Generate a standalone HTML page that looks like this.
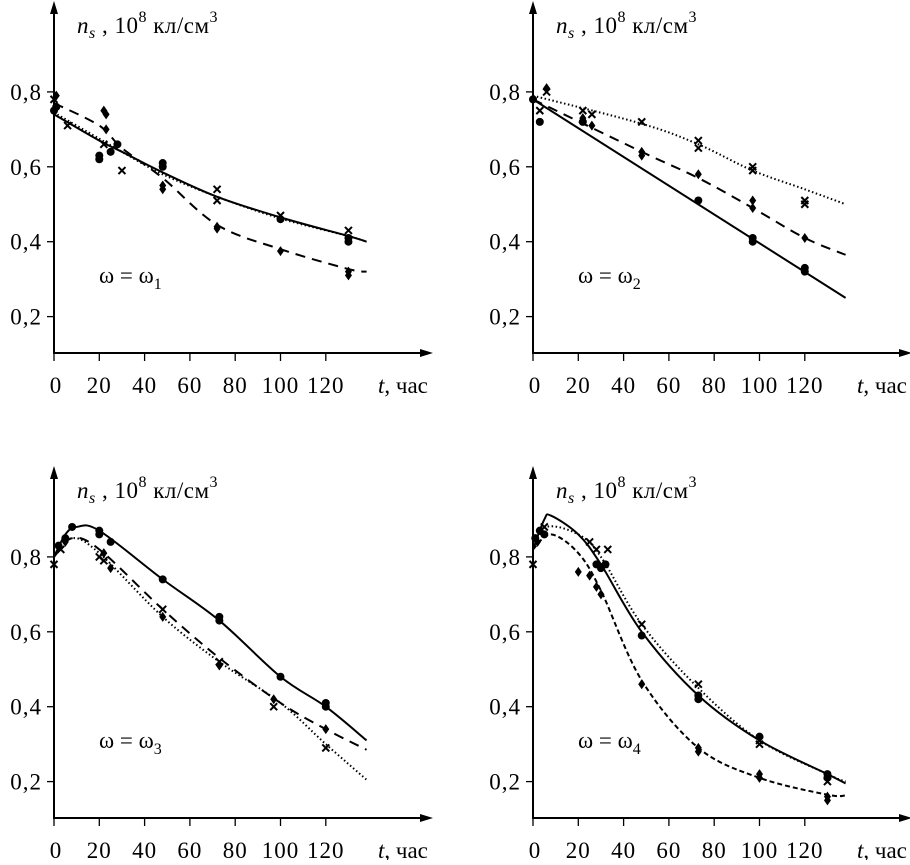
<!DOCTYPE html>
<html><head><meta charset="utf-8"><style>
body{margin:0;background:#fff}
svg text{font-family:"Liberation Serif",serif;fill:#000}
</style></head><body>
<svg id="c" width="910" height="860" xmlns="http://www.w3.org/2000/svg"></svg>
<script>
const xTicks=[0,20,40,60,80,100,120];
const yTicks=[0.2,0.4,0.6,0.8];
const yTickLabels=["0,2","0,4","0,6","0,8"];
const panelSubs=["1","2","3","4"];
const p1SolidT=[0,20,30,48,72,100,130,138], p1SolidN=[0.74,0.67,0.64,0.585,0.52,0.465,0.415,0.40];
const p1DotT=[0,20,30,48,72,100,130,138], p1DotN=[0.745,0.675,0.64,0.58,0.52,0.462,0.415,0.40];
const p1DashT=[0,20,30,48,72,100,130,138], p1DashN=[0.77,0.71,0.65,0.57,0.445,0.38,0.327,0.32];
const p2SolidT=[0,138], p2SolidN=[0.78,0.25];
const p2DotT=[0,48,73,97,120,138], p2DotN=[0.79,0.715,0.66,0.59,0.54,0.50];
const p2DashT=[0,48,73,97,120,138], p2DashN=[0.78,0.64,0.57,0.49,0.41,0.365];
const p3SolidT=[0,5,10,20,48,73,100,120,138], p3SolidN=[0.8,0.86,0.88,0.87,0.74,0.63,0.48,0.40,0.31];
const p3DotT=[0,8,20,48,73,100,120,138], p3DotN=[0.8,0.85,0.81,0.64,0.52,0.41,0.30,0.205];
const p3DashT=[0,8,20,48,73,100,120,138], p3DashN=[0.8,0.85,0.82,0.66,0.53,0.41,0.34,0.285];
const p4SolidT=[0,5,8,20,30,48,73,100,130,138], p4SolidN=[0.82,0.9,0.91,0.86,0.78,0.6,0.43,0.31,0.22,0.195];
const p4DotT=[0,6,20,30,48,73,100,130,138], p4DotN=[0.82,0.88,0.86,0.8,0.62,0.45,0.31,0.22,0.2];
const p4DashT=[0,8,20,30,48,73,100,130,138], p4DashN=[0.82,0.86,0.81,0.71,0.47,0.29,0.21,0.165,0.163];
const p1CircT=[0,1,20,20,25,28,48,48,100,130,130], p1CircN=[0.75,0.76,0.62,0.63,0.64,0.66,0.60,0.61,0.46,0.40,0.41];
const p1CrossT=[0,6,22,30,72,72,100,130], p1CrossN=[0.78,0.71,0.66,0.59,0.54,0.51,0.47,0.43];
const p1DiaT=[1,22,23,23,48,48,72,72,100,130,130], p1DiaN=[0.79,0.75,0.74,0.70,0.55,0.54,0.44,0.435,0.375,0.32,0.31];
const p2CircT=[0,3,22,73,97,97,120,120], p2CircN=[0.78,0.72,0.72,0.51,0.40,0.41,0.32,0.33];
const p2CrossT=[3,6,22,26,48,73,73,97,97,120,120], p2CrossN=[0.75,0.8,0.75,0.74,0.72,0.65,0.67,0.59,0.60,0.50,0.51];
const p2DiaT=[6,22,26,48,48,73,97,97,120], p2DiaN=[0.81,0.73,0.71,0.63,0.64,0.58,0.49,0.51,0.41];
const p3CircT=[2,5,8,20,20,25,48,73,73,100,120,120], p3CircN=[0.83,0.85,0.88,0.87,0.86,0.84,0.74,0.64,0.63,0.48,0.40,0.41];
const p3CrossT=[0,3,20,22,48,73,97,120], p3CrossN=[0.78,0.82,0.80,0.79,0.66,0.52,0.40,0.29];
const p3DiaT=[5,22,25,48,73,97,120], p3DiaN=[0.84,0.81,0.77,0.64,0.51,0.42,0.34];
const p4CircT=[1,3,5,28,30,32,48,73,73,100,130,130], p4CircN=[0.85,0.87,0.86,0.78,0.77,0.78,0.59,0.42,0.43,0.32,0.21,0.22];
const p4CrossT=[0,5,25,28,33,48,73,100,100,130], p4CrossN=[0.78,0.88,0.84,0.82,0.82,0.62,0.46,0.30,0.31,0.20];
const p4DiaT=[2,20,25,28,30,48,73,73,100,100,130,130], p4DiaN=[0.84,0.76,0.75,0.72,0.70,0.46,0.28,0.29,0.21,0.22,0.15,0.16];

const panels=[
 {ox:0,oy:0,c:[[p1SolidT,p1SolidN,'solid'],[p1DotT,p1DotN,'dot'],[p1DashT,p1DashN,'dash']],m:[[p1CircT,p1CircN,'circle'],[p1CrossT,p1CrossN,'cross'],[p1DiaT,p1DiaN,'diamond']]},
 {ox:479,oy:0,c:[[p2SolidT,p2SolidN,'solid'],[p2DotT,p2DotN,'dot'],[p2DashT,p2DashN,'dash']],m:[[p2CircT,p2CircN,'circle'],[p2CrossT,p2CrossN,'cross'],[p2DiaT,p2DiaN,'diamond']]},
 {ox:0,oy:465,c:[[p3SolidT,p3SolidN,'solid'],[p3DotT,p3DotN,'dot'],[p3DashT,p3DashN,'dash']],m:[[p3CircT,p3CircN,'circle'],[p3CrossT,p3CrossN,'cross'],[p3DiaT,p3DiaN,'diamond']]},
 {ox:479,oy:465,c:[[p4SolidT,p4SolidN,'solid'],[p4DotT,p4DotN,'dot'],[p4DashT,p4DashN,'dash']],m:[[p4CircT,p4CircN,'circle'],[p4CrossT,p4CrossN,'cross'],[p4DiaT,p4DiaN,'diamond']]}
];
const svg=document.getElementById('c');
const NS='http://www.w3.org/2000/svg';
function mk(tag,attrs,parent){const e=document.createElementNS(NS,tag);for(const k in attrs)e.setAttribute(k,attrs[k]);(parent||svg).appendChild(e);return e;}
function smooth(pts){
 if(pts.length===2)return 'M'+pts[0].join(',')+'L'+pts[1].join(',');
 let d='M'+pts[0][0]+','+pts[0][1];
 for(let i=0;i<pts.length-1;i++){const p0=pts[Math.max(0,i-1)],p1=pts[i],p2=pts[i+1],p3=pts[Math.min(pts.length-1,i+2)];
  d+='C'+(p1[0]+(p2[0]-p0[0])/6)+','+(p1[1]+(p2[1]-p0[1])/6)+' '+(p2[0]-(p3[0]-p1[0])/6)+','+(p2[1]-(p3[1]-p1[1])/6)+' '+p2[0]+','+p2[1];}
 return d;}
panels.forEach((P,pi)=>{
 const g=mk('g',{});
 
 
 const X0=P.ox+54, Y0=P.oy+353;
 const xs=t=>X0+t*2.265;
 const ys=n=>P.oy+391.5-n*374.5;
 const ax=mk('path',{d:`M${X0},${P.oy+8}V${Y0}H${P.ox+428}`,stroke:'#000','stroke-width':2,fill:'none'},g);
 
 
 mk('path',{d:`M${X0-4},${P.oy+14}L${X0},${P.oy+1}L${X0+4},${P.oy+14}Z`,fill:'#000'},g);
 mk('path',{d:`M${P.ox+420},${Y0-4}L${P.ox+433},${Y0}L${P.ox+420},${Y0+4}Z`,fill:'#000'},g);
 xTicks.forEach(t=>{const x=xs(t);mk('line',{x1:x,y1:Y0,x2:x,y2:Y0+8,stroke:'#000','stroke-width':1.3},g);
  const tx=mk('text',{x:x+(t===0?2:0),y:P.oy+393,'font-size':23,'letter-spacing':'1px','text-anchor':'middle'},g);tx.textContent=t;
  
  });
 yTicks.forEach((n,i)=>{const y=ys(n);mk('line',{x1:X0-7,y1:y,x2:X0,y2:y,stroke:'#000','stroke-width':1.3},g);
  const tx=mk('text',{x:X0-12,y:y+8,'font-size':23,'letter-spacing':'1px','text-anchor':'end'},g);tx.textContent=yTickLabels[i];
  
  });
 const yt=mk('text',{x:P.ox+77,y:P.oy+33,'font-size':23,'letter-spacing':'0.5px'},g);
 yt.innerHTML='<tspan font-style="italic">n</tspan><tspan font-style="italic" font-size="16" dy="5">s</tspan><tspan dy="-5"> , 10</tspan><tspan font-size="16" dy="-11">8</tspan><tspan dy="11"> кл/см</tspan><tspan font-size="16" dy="-11">3</tspan>';
 
 
 const xt=mk('text',{x:P.ox+378,y:P.oy+393,'font-size':23},g);
 xt.innerHTML='<tspan font-style="italic">t</tspan>, час';
 
 
 const lb=mk('text',{x:P.ox+99,y:P.oy+283,'font-size':23},g);
 lb.innerHTML='ω = ω<tspan font-size="16" dy="6">'+panelSubs[pi]+'</tspan>';
 
 
 P.c.forEach(([T,N,s])=>{const pts=T.map((t,i)=>[xs(t),ys(N[i])]);
  const a={d:smooth(pts),stroke:'#000',fill:'none','stroke-width':2};
  if(s==='dot')a['stroke-dasharray']='1.5,2.5';if(s==='dash')a['stroke-dasharray']=pi===3?'5,3':'10,7';
  const e=mk('path',a,g);
  
  });
 P.m.forEach(([T,N,s])=>{T.forEach((t,i)=>{const x=xs(t),y=ys(N[i]);let e;
  if(s==='circle')e=mk('circle',{cx:x,cy:y,r:4,fill:'#000'},g);
  else if(s==='diamond')e=mk('path',{d:`M${x},${y-5}L${x+3.5},${y}L${x},${y+5}L${x-3.5},${y}Z`,fill:'#000'},g);
  else e=mk('path',{d:`M${x-3.5},${y-3.5}L${x+3.5},${y+3.5}M${x+3.5},${y-3.5}L${x-3.5},${y+3.5}`,stroke:'#000','stroke-width':2},g);
  
  });});
});
</script>
</body></html>
